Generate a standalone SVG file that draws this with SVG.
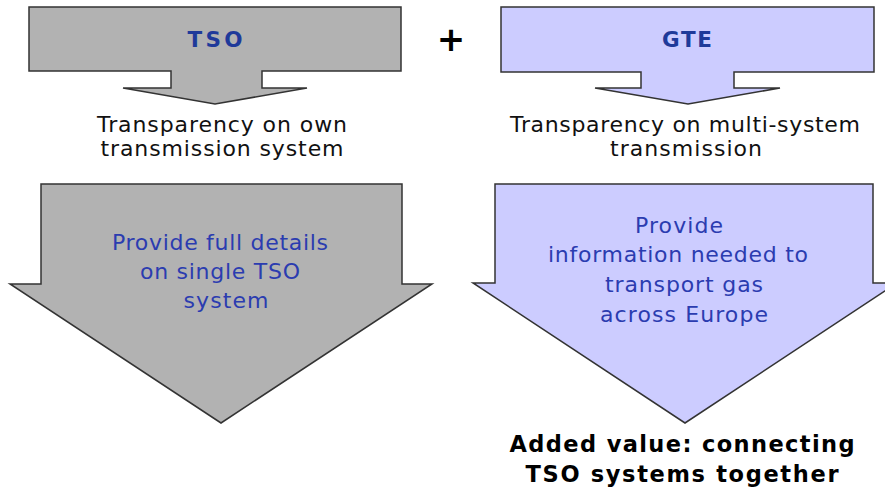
<svg xmlns="http://www.w3.org/2000/svg" width="885" height="489" viewBox="0 0 885 489">
<style>
text{font-family:"DejaVu Sans",Verdana,sans-serif;text-anchor:middle}
.gray{fill:#b2b2b2;stroke:#333;stroke-width:1.5}
.lav{fill:#ccccff;stroke:#333;stroke-width:1.5}
.title{font-weight:bold;font-size:21.5px;fill:#1f3a9a}
.body{font-size:22px;fill:#2b3cb0}
.cap{font-size:22px;fill:#111}
.bold{font-weight:bold;font-size:22.5px;fill:#000}
</style>
<rect width="885" height="489" fill="#fff"/>
<g id="tso-top">
<path class="gray" d="M29,7 H401 V71 H262 V88 H307 L215,104 L123,88 H171 V71 H29 Z"/>
<text class="title" x="215" y="47" textLength="55" lengthAdjust="spacing">TSO</text>
</g>
<g id="plus">
<text x="451" y="51" font-weight="bold" font-size="34" fill="#000">+</text>
</g>
<g id="gte-top">
<path class="lav" d="M501,7 H874 V72 H734 V88 H780 L688,104 L595,88 H641 V72 H501 Z"/>
<text class="title" x="687" y="47" textLength="50" lengthAdjust="spacing">GTE</text>
</g>
<g id="tso-label">
<text class="cap" x="222" y="132" textLength="250" lengthAdjust="spacing">Transparency on own</text>
<text class="cap" x="222" y="156" textLength="243" lengthAdjust="spacing">transmission system</text>
</g>
<g id="gte-label">
<text class="cap" x="685" y="132" textLength="350" lengthAdjust="spacing">Transparency on multi-system</text>
<text class="cap" x="686" y="156" textLength="152" lengthAdjust="spacing">transmission</text>
</g>
<g id="tso-bottom">
<path class="gray" d="M41,184 H402 V284 H432 L221,423 L10,284 H41 Z"/>
<text class="body" x="220" y="250" textLength="216" lengthAdjust="spacing">Provide full details</text>
<text class="body" x="220" y="279" textLength="160" lengthAdjust="spacing">on single TSO</text>
<text class="body" x="226" y="308" textLength="85" lengthAdjust="spacing">system</text>
</g>
<g id="gte-bottom">
<path class="lav" d="M495,184 H873 V283 H897 L685,423 L473,283 H495 Z"/>
<text class="body" x="679" y="233" textLength="88" lengthAdjust="spacing">Provide</text>
<text class="body" x="678" y="262" textLength="260" lengthAdjust="spacing">information needed to</text>
<text class="body" x="684" y="292" textLength="158" lengthAdjust="spacing">transport gas</text>
<text class="body" x="684" y="322" textLength="168" lengthAdjust="spacing">across Europe</text>
</g>
<g id="added-value">
<text class="bold" x="682" y="452" textLength="345" lengthAdjust="spacing">Added value: connecting</text>
<text class="bold" x="682" y="482" textLength="313" lengthAdjust="spacing">TSO systems together</text>
</g>
<g id="connectors"></g>
</svg>
